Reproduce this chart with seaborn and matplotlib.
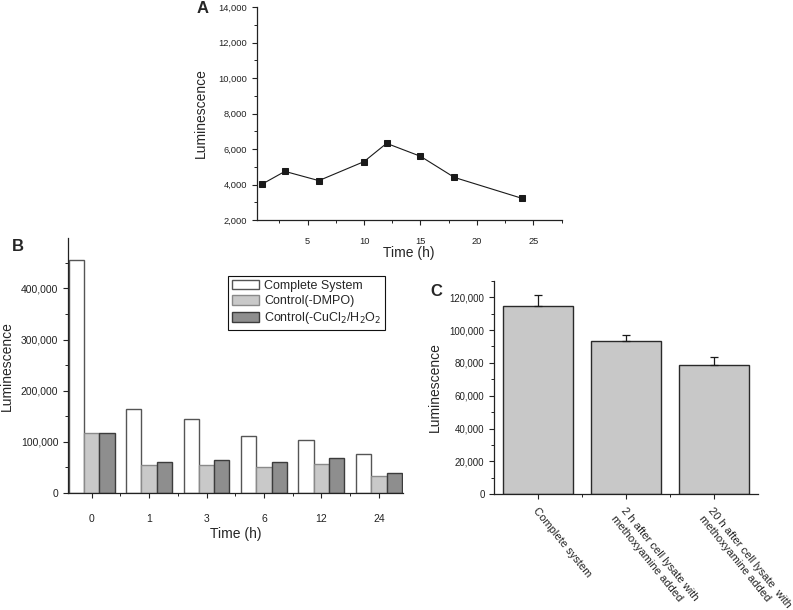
import matplotlib
matplotlib.use("Agg")
import matplotlib.pyplot as plt
from matplotlib.ticker import FuncFormatter, MultipleLocator, FixedLocator
import numpy as np
import pandas as pd
import seaborn as sns

# Panel A: luminescence over time
a_time = [1, 3, 6, 10, 12, 15, 18, 24]
a_lum = [4030, 4740, 4220, 5290, 6320, 5590, 4400, 3220]

# Panel B: grouped bars
b_times = ["0", "1", "3", "6", "12", "24"]
b_complete = [455000, 163300, 144300, 110400, 102600, 75300]
b_no_dmpo = [118000, 54000, 54700, 51500, 57300, 32200]
b_no_cucl = [118000, 60600, 63500, 60600, 67400, 38400]
b_series = ["Complete System", "Control(-DMPO)", "Control(-CuCl$_2$/H$_2$O$_2$"]

# Panel C: bars with error bars
c_groups = ["Complete system",
            "2 h after cell lysate with\nmethoxyamine added",
            "20 h after cell lysate  with\nmethoxyamine added"]
c_lum = [114400, 93300, 78900]
c_err = [6900, 3500, 4900]

sns.set_style("ticks")
plt.rcParams["font.family"] = ["Liberation Sans", "DejaVu Sans"]
plt.rcParams["axes.edgecolor"] = "#222222"
plt.rcParams["xtick.color"] = "#222222"
plt.rcParams["ytick.color"] = "#222222"

comma = FuncFormatter(lambda v, p: f"{int(v):,}")

fig = plt.figure(figsize=(7.93, 6.10), dpi=100)


def style_axis(ax, size):
    sns.despine(ax=ax)
    ax.patch.set_alpha(0)
    for s in ["left", "bottom"]:
        ax.spines[s].set_linewidth(0.9)
    ax.tick_params(which="major", length=3.5, width=0.8, labelsize=size)
    ax.tick_params(which="minor", length=2, width=0.7)


# ---- A ----
axA = fig.add_axes([0.3237, 0.6393, 0.3846, 0.3492])
df_a = pd.DataFrame({"time": a_time, "lum": a_lum})
sns.lineplot(data=df_a, x="time", y="lum", ax=axA, color="#1a1a1a", lw=0.8,
             marker="s", markersize=5, markeredgecolor="#1a1a1a")
axA.set_xlim(0.5, 27.5)
axA.set_ylim(2000, 14000)
axA.xaxis.set_major_locator(FixedLocator([5, 10, 15, 20, 25]))
axA.xaxis.set_minor_locator(MultipleLocator(2.5))
axA.yaxis.set_major_locator(MultipleLocator(2000))
axA.yaxis.set_minor_locator(MultipleLocator(1000))
axA.yaxis.set_major_formatter(comma)
style_axis(axA, 6.7)
axA.tick_params(axis="x", which="major", pad=9)
axA.set_xlabel("Time (h)", fontsize=10)
axA.set_ylabel("Luminescence", fontsize=10)
axA.xaxis.set_label_coords(0.5, -0.12)
axA.yaxis.set_label_coords(-0.16, 0.5)
axA.text(-0.176, 0.995, "A", transform=axA.transAxes, fontsize=12,
         fontweight="bold", ha="center", va="center")

# ---- B ----
axB = fig.add_axes([0.0858, 0.1921, 0.4224, 0.4172])
df_b = pd.DataFrame({
    "time": b_times * 3,
    "lum": b_complete + b_no_dmpo + b_no_cucl,
    "series": [b_series[0]] * 6 + [b_series[1]] * 6 + [b_series[2]] * 6,
})
fills = ["#ffffff", "#c9c9c9", "#8e8e8e"]
edges = ["#555555", "#8a8a8a", "#3c3c3c"]
sns.barplot(data=df_b, x="time", y="lum", hue="series", order=b_times,
            hue_order=b_series, palette=fills, saturation=1, ax=axB,
            legend=False, width=0.8)
for cont, ec in zip(axB.containers, edges):
    for p in cont.patches:
        p.set_edgecolor(ec)
        p.set_linewidth(1.0)
axB.set_xlim(-0.41, 5.42)
axB.set_ylim(0, 498000)
axB.yaxis.set_major_locator(MultipleLocator(100000))
axB.yaxis.set_minor_locator(MultipleLocator(50000))
axB.xaxis.set_minor_locator(FixedLocator([0.5, 1.5, 2.5, 3.5, 4.5]))
axB.yaxis.set_major_formatter(comma)
style_axis(axB, 7.5)
axB.tick_params(axis="x", which="major", pad=12)
axB.set_xlabel("Time (h)", fontsize=10)
axB.set_ylabel("Luminescence", fontsize=10)
axB.xaxis.set_label_coords(0.5, -0.135)
axB.yaxis.set_label_coords(-0.162, 0.5)
axB.legend(axB.containers, b_series, loc="upper left",
           bbox_to_anchor=(0.477, 0.852), fontsize=9, frameon=True,
           fancybox=False, edgecolor="#111111", framealpha=1,
           handlelength=2.2, handleheight=0.8, labelspacing=0.25,
           borderpad=0.3, handletextpad=0.4, borderaxespad=0)
axB.get_legend().get_frame().set_linewidth(0.8)
axB.text(-0.149, 0.966, "B", transform=axB.transAxes, fontsize=12,
         fontweight="bold", ha="center", va="center")

# ---- C ----
axC = fig.add_axes([0.6233, 0.1897, 0.3329, 0.3501])
df_c = pd.DataFrame({"group": c_groups, "lum": c_lum})
sns.barplot(data=df_c, x="group", y="lum", order=c_groups, color="#c8c8c8",
            saturation=1, edgecolor="#2a2a2a", linewidth=1.0, errorbar=None,
            width=0.8, ax=axC)
axC.errorbar(x=np.arange(len(c_lum)), y=c_lum,
             yerr=[np.zeros(len(c_err)), c_err], fmt="none",
             ecolor="#1a1a1a", elinewidth=0.9, capsize=3, capthick=0.9)
axC.set_xlim(-0.5, 2.5)
axC.set_ylim(0, 130000)
axC.yaxis.set_major_locator(MultipleLocator(20000))
axC.yaxis.set_minor_locator(MultipleLocator(10000))
axC.xaxis.set_minor_locator(FixedLocator([0.5, 1.5]))
axC.yaxis.set_major_formatter(comma)
style_axis(axC, 7)
axC.tick_params(axis="x", which="major", pad=5)
axC.set_xticks(range(len(c_groups)))
axC.set_xticklabels(c_groups, rotation=-51, ha="left", va="top",
                    rotation_mode="anchor", fontsize=8)
axC.set_xlabel("")
axC.set_ylabel("Luminescence", fontsize=10)
axC.yaxis.set_label_coords(-0.198, 0.5)
axC.text(-0.22, 0.95, "C", transform=axC.transAxes, fontsize=12,
         fontweight="bold", ha="center", va="center")

fig.savefig("out.png", dpi=100)
